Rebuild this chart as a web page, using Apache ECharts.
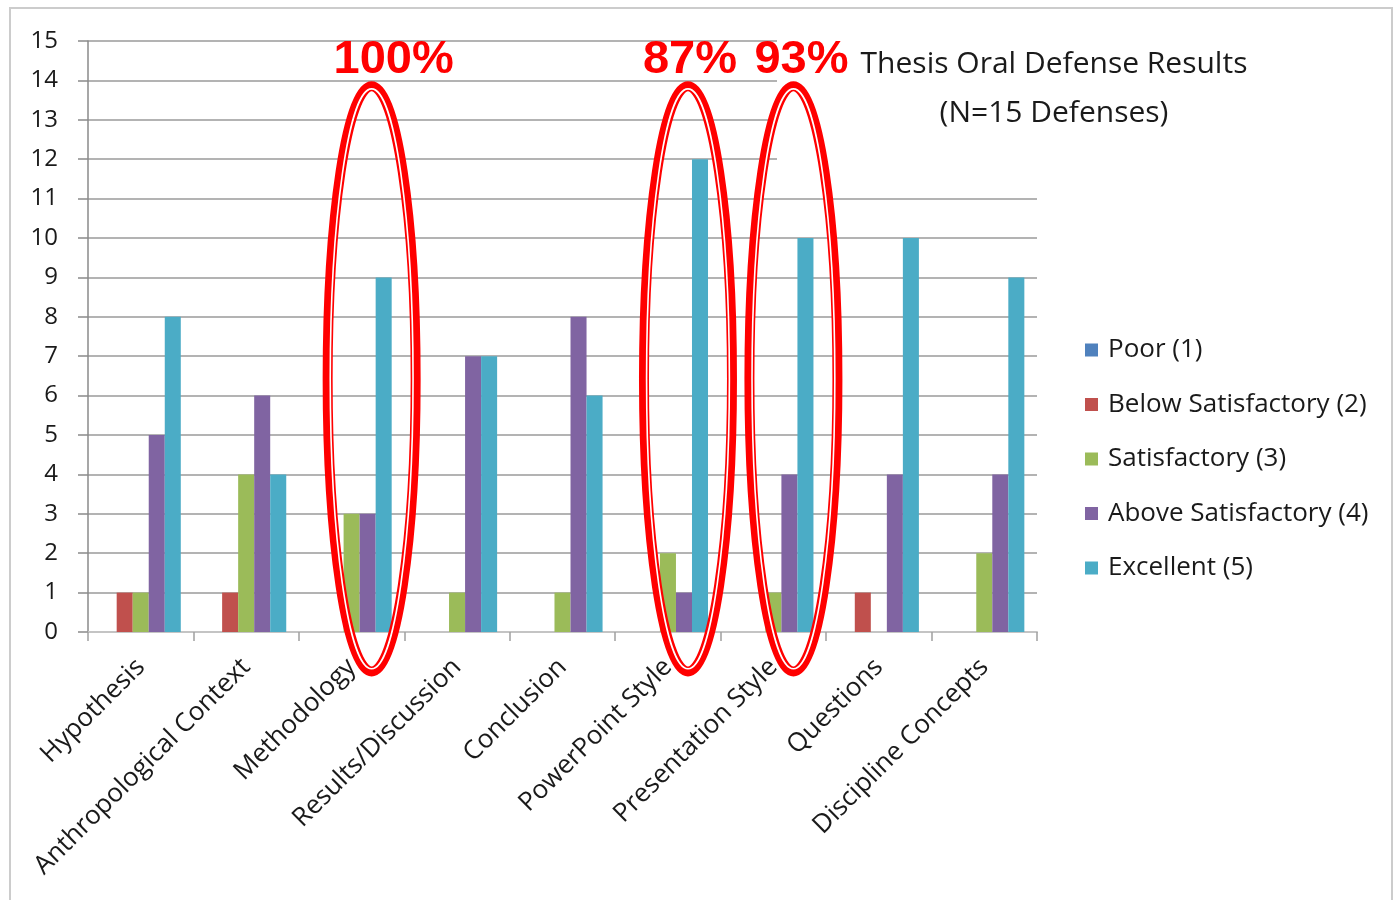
<!DOCTYPE html>
<html>
<head>
<meta charset="utf-8">
<title>Thesis Oral Defense Results</title>
<script src="https://cdn.jsdelivr.net/npm/echarts@6/dist/echarts.min.js"></script>
<style>
  html, body {
    margin: 0;
    padding: 0;
    background: #ffffff;
  }
  #chart {
    width: 1395px;
    height: 900px;
  }
</style>
</head>
<body>
<div id="chart"></div>
<script>
const categories = [
  'Hypothesis',
  'Anthropological Context',
  'Methodology',
  'Results/Discussion',
  'Conclusion',
  'PowerPoint Style',
  'Presentation Style',
  'Questions',
  'Discipline Concepts'
]

const poor = [0, 0, 0, 0, 0, 0, 0, 0, 0]
const belowSatisfactory = [1, 1, 0, 0, 0, 0, 0, 1, 0]
const satisfactory = [1, 4, 3, 1, 1, 2, 1, 0, 2]
const aboveSatisfactory = [5, 6, 3, 7, 8, 1, 4, 4, 4]
const excellent = [8, 4, 9, 7, 6, 12, 10, 10, 9]

const seriesNames = [
  'Poor (1)',
  'Below Satisfactory (2)',
  'Satisfactory (3)',
  'Above Satisfactory (4)',
  'Excellent (5)'
]

const yTicks = { min: 0, max: 15, interval: 1 }

// highlighted categories and the percentages written above them
const highlightCats = ['Methodology', 'PowerPoint Style', 'Presentation Style']
const highlightLabels = ['100%', '87%', '93%']

const colors = ['#4f81bd', '#c0504d', '#9bbb59', '#8064a2', '#4bacc6']
const font = "'Open Sans', 'DejaVu Sans', sans-serif"

const chart = echarts.init(document.getElementById('chart'))

const option = {
  animation: false,
  backgroundColor: '#ffffff',
  legend: {
    orient: 'vertical',
    left: 1080,
    top: 332,
    itemWidth: 13,
    itemHeight: 13,
    itemGap: 28.5,
    icon: 'rect',
    textStyle: {
      color: '#1a1a1a',
      fontFamily: font,
      fontSize: 26,
      lineHeight: 24,
      padding: [0, 0, 0, 5]
    },
    data: seriesNames
  },
  grid: {
    left: 88,
    right: 358,
    top: 41,
    bottom: 268,
    containLabel: false
  },
  xAxis: {
    type: 'category',
    data: categories,
    axisLine: {
      show: true,
      lineStyle: { color: '#c4c4c4', width: 2 }
    },
    axisTick: {
      show: true,
      alignWithLabel: false,
      length: 9,
      lineStyle: { color: '#a0a0a0', width: 1.5 }
    },
    axisLabel: {
      rotate: 45,
      interval: 0,
      margin: 31,
      color: '#1a1a1a',
      fontFamily: font,
      fontSize: 26
    },
    splitLine: { show: false }
  },
  yAxis: {
    type: 'value',
    min: yTicks.min,
    max: yTicks.max,
    interval: yTicks.interval,
    axisLine: {
      show: true,
      lineStyle: { color: '#8a8a8a', width: 1.5 }
    },
    axisTick: {
      show: true,
      length: 10,
      lineStyle: { color: '#8a8a8a', width: 1.5 }
    },
    axisLabel: {
      margin: 30,
      color: '#1a1a1a',
      fontFamily: font,
      fontSize: 24
    },
    splitLine: {
      show: true,
      lineStyle: { color: '#9a9a9a', width: 1.5 }
    }
  },
  series: [poor, belowSatisfactory, satisfactory, aboveSatisfactory, excellent].map((values, index) => {
    return {
      name: seriesNames[index],
      type: 'bar',
      data: values,
      barGap: '0%',
      barCategoryGap: '24%',
      itemStyle: { color: colors[index] }
    }
  })
}

chart.setOption(option)

// annotations: title box, red ellipses and percentages
const xPos = (cat) => chart.convertToPixel({ xAxisIndex: 0 }, cat)
const yPos = (val) => chart.convertToPixel({ yAxisIndex: 0 }, val)
const band = xPos(categories[1]) - xPos(categories[0])
const labelShift = [22, 2, 8]

const elements = [
  {
    type: 'rect',
    z: 100,
    shape: { x: 777, y: 36, width: 560, height: 138 },
    style: { fill: '#ffffff' }
  },
  {
    type: 'text',
    z: 101,
    x: 1054,
    y: 89,
    style: {
      text: 'Thesis Oral Defense Results\n(N=15 Defenses)',
      fill: '#1a1a1a',
      font: '30px ' + font,
      lineHeight: 49,
      align: 'center',
      verticalAlign: 'middle'
    }
  },
  {
    type: 'rect',
    z: 100,
    shape: { x: 10, y: 8, width: 1382, height: 900 },
    style: { fill: 'none', stroke: '#cccccc', lineWidth: 2 }
  }
]

highlightCats.forEach((cat, i) => {
  const cx = xPos(cat) + band * 0.19
  const top = yPos(13.85)
  const bottom = yPos(-1.0)
  const cy = (top + bottom) / 2
  const ry = (bottom - top) / 2
  const rx = 44
  elements.push({
    type: 'ellipse',
    z: 102,
    shape: { cx: cx, cy: cy, rx: rx, ry: ry },
    style: { fill: 'none', stroke: '#ff0000', lineWidth: 10 }
  })
  elements.push({
    type: 'ellipse',
    z: 103,
    shape: { cx: cx, cy: cy, rx: rx - 2.6, ry: ry - 2.6 },
    style: { fill: 'none', stroke: '#ffffff', lineWidth: 1.6 }
  })
  elements.push({
    type: 'text',
    z: 104,
    x: cx + labelShift[i],
    y: 60,
    style: {
      text: highlightLabels[i],
      fill: '#ff0000',
      font: "bold 47px 'Liberation Sans', Arial, sans-serif",
      align: 'center',
      verticalAlign: 'middle'
    }
  })
})

chart.setOption({ graphic: { elements: elements } })
</script>
</body>
</html>
